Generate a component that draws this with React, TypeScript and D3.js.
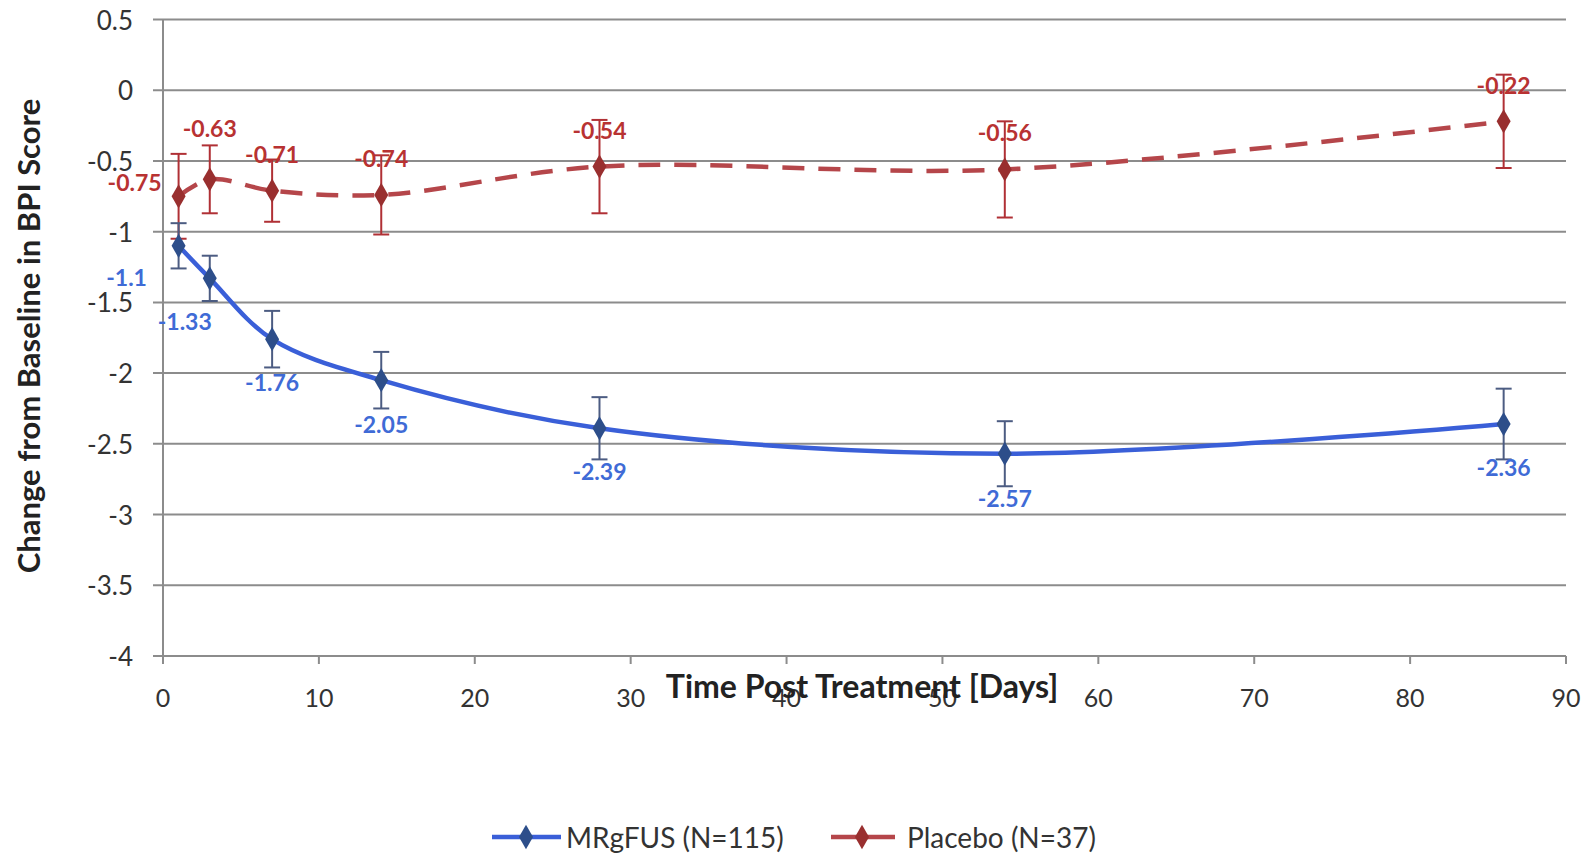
import React from "react";
import * as d3 from "d3";

// ---- data ----
const days = [1, 3, 7, 14, 28, 54, 86];
const mrgfusValues = [-1.1, -1.33, -1.76, -2.05, -2.39, -2.57, -2.36];
const mrgfusErrors = [0.16, 0.16, 0.2, 0.2, 0.22, 0.23, 0.25];
const placeboValues = [-0.75, -0.63, -0.71, -0.74, -0.54, -0.56, -0.22];
const placeboErrors = [0.3, 0.24, 0.22, 0.28, 0.33, 0.34, 0.33];
const xTicks = [0, 10, 20, 30, 40, 50, 60, 70, 80, 90];
const yTicks = [0.5, 0, -0.5, -1, -1.5, -2, -2.5, -3, -3.5, -4];
const seriesNames = ["MRgFUS (N=115)", "Placebo (N=37)"];
const xTitle = "Time Post Treatment [Days]";
const yTitle = "Change from Baseline in BPI Score";

// ---- label placement (style) ----
const placeboLabelOffsets = [
  { dx: -44, dy: -14 },
  { dx: 0, dy: -51 },
  { dx: 0, dy: -37 },
  { dx: 0, dy: -37 },
  { dx: 0, dy: -37 },
  { dx: 0, dy: -37 },
  { dx: 0, dy: -36 },
];
const mrgfusLabelOffsets = [
  { dx: -52, dy: 31 },
  { dx: -25, dy: 43 },
  { dx: 0, dy: 43 },
  { dx: 0, dy: 44 },
  { dx: 0, dy: 43 },
  { dx: 0, dy: 44 },
  { dx: 0, dy: 43 },
];

const FONT = "Lato, 'Open Sans', sans-serif";
const BLUE_LINE = "#3A5FD8";
const BLUE_MARK = "#2D4E8A";
const BLUE_TEXT = "#3F6BD6";
const BLUE_ERR = "#4C5C82";
const RED_LINE = "#B5464A";
const RED_MARK = "#992F2F";
const RED_TEXT = "#B83232";
const RED_ERR = "#B03035";
const GRID = "#8C8C8C";

const W = 1585;
const H = 854;
const x = d3.scaleLinear().domain([0, 90]).range([163, 1566]);
const y = d3.scaleLinear().domain([0.5, -4]).range([19.5, 656]);

const diamond = d3.symbol().type(d3.symbolDiamond).size(170);

function fmt(v: number) {
  return String(v);
}

export default function App() {
  const line = d3
    .line<number>()
    .x((_, i) => x(days[i]))
    .y((d) => y(d))
    .curve(d3.curveCatmullRom.alpha(0.5));

  const errBars = (vals: number[], errs: number[], color: string) =>
    vals.map((v, i) => {
      const cx = x(days[i]);
      const y1 = y(v + errs[i]);
      const y2 = y(v - errs[i]);
      return (
        <g key={i} stroke={color} strokeWidth={2}>
          <line x1={cx} x2={cx} y1={y1} y2={y2} />
          <line x1={cx - 8} x2={cx + 8} y1={y1} y2={y1} />
          <line x1={cx - 8} x2={cx + 8} y1={y2} y2={y2} />
        </g>
      );
    });

  const markers = (vals: number[], color: string) =>
    vals.map((v, i) => (
      <path
        key={i}
        d={diamond() as string}
        transform={`translate(${x(days[i])},${y(v)})`}
        fill={color}
      />
    ));

  const labels = (
    vals: number[],
    offs: { dx: number; dy: number }[],
    color: string
  ) =>
    vals.map((v, i) => (
      <text
        key={i}
        x={x(days[i]) + offs[i].dx}
        y={y(v) + offs[i].dy}
        textAnchor="middle"
        dominantBaseline="central"
        fill={color}
        fontSize={23}
        fontWeight="bold"
        fontFamily={FONT}
      >
        {fmt(v)}
      </text>
    ));

  return (
    <svg
      width={W}
      height={H}
      style={{ position: "absolute", left: 0, top: 0, background: "#fff" }}
    >
      <rect width={W} height={H} fill="#fff" />
      {/* gridlines */}
      {yTicks.map((t) => (
        <line
          key={t}
          x1={153}
          x2={x(90)}
          y1={y(t)}
          y2={y(t)}
          stroke={GRID}
          strokeWidth={2}
        />
      ))}
      {/* y axis */}
      <line x1={x(0)} x2={x(0)} y1={y(0.5)} y2={y(-4) + 8} stroke={GRID} strokeWidth={2} />
      {/* x ticks */}
      {xTicks.map((t) => (
        <line
          key={t}
          x1={x(t)}
          x2={x(t)}
          y1={y(-4)}
          y2={y(-4) + 8}
          stroke={GRID}
          strokeWidth={2}
        />
      ))}
      {/* y tick labels */}
      {yTicks.map((t) => (
        <text
          key={t}
          x={133}
          y={y(t)}
          textAnchor="end"
          dominantBaseline="central"
          fontSize={26}
          fontFamily={FONT}
          fill="#333"
        >
          {fmt(t)}
        </text>
      ))}
      {/* x tick labels */}
      {xTicks.map((t) => (
        <text
          key={t}
          x={x(t)}
          y={y(-4) + 41}
          textAnchor="middle"
          dominantBaseline="central"
          fontSize={25}
          fontFamily={FONT}
          fill="#333"
        >
          {t}
        </text>
      ))}
      {/* titles */}
      <text
        x={862}
        y={y(-4) + 29}
        textAnchor="middle"
        dominantBaseline="central"
        fontSize={32}
        fontWeight="bold"
        fontFamily={FONT}
        fill="#222"
      >
        {xTitle}
      </text>
      <text
        transform={`translate(28,336) rotate(-90)`}
        textAnchor="middle"
        dominantBaseline="central"
        fontSize={31}
        fontWeight="bold"
        fontFamily={FONT}
        fill="#222"
      >
        {yTitle}
      </text>

      {/* placebo series */}
      {errBars(placeboValues, placeboErrors, RED_ERR)}
      <path
        d={line(placeboValues) as string}
        fill="none"
        stroke={RED_LINE}
        strokeWidth={4.5}
        strokeDasharray="22 14"
      />
      {markers(placeboValues, RED_MARK)}
      {labels(placeboValues, placeboLabelOffsets, RED_TEXT)}

      {/* MRgFUS series */}
      {errBars(mrgfusValues, mrgfusErrors, BLUE_ERR)}
      <path
        d={line(mrgfusValues) as string}
        fill="none"
        stroke={BLUE_LINE}
        strokeWidth={4.5}
      />
      {markers(mrgfusValues, BLUE_MARK)}
      {labels(mrgfusValues, mrgfusLabelOffsets, BLUE_TEXT)}

      {/* legend */}
      <g>
        <line x1={492} x2={561} y1={837} y2={837} stroke={BLUE_LINE} strokeWidth={4.5} />
        <path d={diamond() as string} transform="translate(526,837)" fill={BLUE_MARK} />
        <text x={566} y={837} dominantBaseline="central" fontSize={28} fontFamily={FONT} fill="#333">
          {seriesNames[0]}
        </text>
        <line x1={831} x2={895} y1={837} y2={837} stroke={RED_LINE} strokeWidth={4.5} />
        <path d={diamond() as string} transform="translate(862,837)" fill={RED_MARK} />
        <text x={907} y={837} dominantBaseline="central" fontSize={28} fontFamily={FONT} fill="#333">
          {seriesNames[1]}
        </text>
      </g>
    </svg>
  );
}
